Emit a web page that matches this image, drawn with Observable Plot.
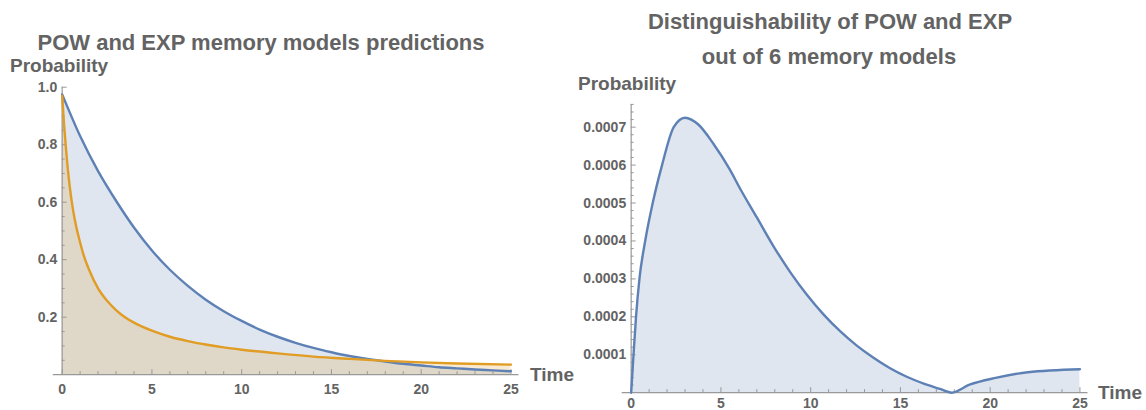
<!DOCTYPE html>
<html><head><meta charset="utf-8">
<script src="https://cdn.jsdelivr.net/npm/d3@7"></script>
<script src="https://cdn.jsdelivr.net/npm/@observablehq/plot@0.6"></script>
<style>
html,body{margin:0;padding:0;background:#fff;}
#wrap{position:relative;width:1146px;height:410px;overflow:hidden;font-family:"Liberation Sans",Arial,sans-serif;font-weight:bold;color:#636363;}
.t{position:absolute;white-space:nowrap;line-height:1;}
</style></head><body>
<div id="wrap">
  <div id="left" style="position:absolute;left:0;top:0;"></div>
  <div id="right" style="position:absolute;left:573px;top:0;"></div>
  <div class="t" style="left:261px;top:43px;font-size:22px;transform:translate(-50%,-50%)">POW and EXP memory models predictions</div>
  <div class="t" style="left:830px;top:22px;font-size:22px;transform:translate(-50%,-50%)">Distinguishability of POW and EXP</div>
  <div class="t" style="left:829px;top:57px;font-size:22px;transform:translate(-50%,-50%)">out of 6 memory models</div>
  <div class="t" style="left:10px;top:65px;font-size:19px;transform:translateY(-50%)">Probability</div>
  <div class="t" style="left:530px;top:374px;font-size:19px;transform:translateY(-50%)">Time</div>
  <div class="t" style="left:578px;top:83px;font-size:19px;transform:translateY(-50%)">Probability</div>
  <div class="t" style="left:1098px;top:392px;font-size:19px;transform:translateY(-50%)">Time</div>
</div>
<script>
// ---- data ----
const timeExp = [0,1,2,3,4,5,6,7,8,9,10,11,12,13,14,15,16,17,18,19,20,21,22,23,24,25];
const probExp = [0.975,0.83,0.708,0.605,0.512,0.432,0.365,0.309,0.261,0.221,0.187,0.157,0.132,0.111,0.093,0.078,0.065,0.055,0.046,0.038,0.032,0.026,0.022,0.018,0.015,0.012];

const timePow = [0,0.1,0.2,0.3,0.42,0.6,0.8,1,1.2,1.5,2,2.5,3,3.5,4,5,6,7,8,9,10,12,14,16,18,20,22,25];
const probPow = [0.97,0.875,0.795,0.725,0.655,0.575,0.51,0.46,0.415,0.365,0.30,0.257,0.225,0.20,0.181,0.153,0.132,0.117,0.105,0.095,0.087,0.074,0.063,0.055,0.048,0.043,0.039,0.035];

const timeDist = [0,0.13,0.27,0.46,0.78,1.2,1.72,2.37,3.0,3.74,4.57,5.5,6.08,7.0,7.93,8.86,9.79,10.7,11.64,12.57,13.5,14.4,15.35,16.3,17.2,17.85,18.85,20.3,22.1,25];
const probDist = [0,0.0001,0.0002,0.0003,0.0004,0.0005,0.0006,0.0007,0.000725,0.000707,0.000657,0.000588,0.000537,0.000462,0.000386,0.000318,0.000258,0.000207,0.000162,0.000124,0.000092,0.000065,0.000042,0.000024,0.00001,0,0.000021,0.000039,0.000054,0.000062];

// ---- ticks ----
const xMajor = [0,5,10,15,20,25];
const xMinor = [1,2,3,4,6,7,8,9,11,12,13,14,16,17,18,19,21,22,23,24];
const yMajorL = [0.2,0.4,0.6,0.8,1.0];
const yMinorL = [0.05,0.1,0.15,0.25,0.3,0.35,0.45,0.5,0.55,0.65,0.7,0.75,0.85,0.9,0.95];
const yMajorR = [0.0001,0.0002,0.0003,0.0004,0.0005,0.0006,0.0007];
const yMinorR = [0.00002,0.00004,0.00006,0.00008,0.00012,0.00014,0.00016,0.00018,0.00022,0.00024,0.00026,0.00028,0.00032,0.00034,0.00036,0.00038,0.00042,0.00044,0.00046,0.00048,0.00052,0.00054,0.00056,0.00058,0.00062,0.00064,0.00066,0.00068,0.00072,0.00074,0.00076];

const blue = "#5e81b5", orange = "#e19c24", gray = "#999999", txt = "#636363";
const expData = timeExp.map((t, i) => ({t, p: probExp[i]}));
const powData = timePow.map((t, i) => ({t, p: probPow[i]}));
const distData = timeDist.map((t, i) => ({t, p: probDist[i]}));
const dxAxis = 8.975;

function axes(yMajor, yMinor, fmt, xPad) {
  return [
    Plot.ruleY([0], {stroke: gray, strokeWidth: 1.2}),
    Plot.ruleX([0], {stroke: gray, strokeWidth: 1.2}),
    Plot.axisX({ticks: xMajor, tickSize: 0, tickPadding: xPad, tickFormat: d => String(d), fill: txt, label: null, fontSize: 14, fontWeight: "bold"}),
    Plot.axisX({ticks: xMajor, tickSize: 5, dy: -5, stroke: gray, fill: "none", label: null}),
    Plot.axisX({ticks: xMinor, tickSize: 3, dy: -3, stroke: gray, fill: "none", label: null}),
    Plot.axisY({ticks: yMajor, tickSize: 0, tickPadding: 5, dx: dxAxis, tickFormat: fmt, fill: txt, label: null, fontSize: 14, fontWeight: "bold"}),
    Plot.axisY({ticks: yMajor, tickSize: 5, dx: dxAxis + 5, stroke: gray, fill: "none", label: null}),
    Plot.axisY({ticks: yMinor, tickSize: 3, dx: dxAxis + 3, stroke: gray, fill: "none", label: null})
  ];
}
const style = {fontFamily: "'Liberation Sans', Arial, sans-serif", fontSize: "14px", fontWeight: "bold", color: txt, background: "transparent", overflow: "visible"};

const leftPlot = Plot.plot({
  width: 573, height: 410,
  marginLeft: 52.7, marginRight: 54.5, marginTop: 86.7, marginBottom: 35.8,
  x: {domain: [-0.5, 25.45]},
  y: {domain: [0, 1]},
  style,
  marks: [
    Plot.areaY(expData, {x: "t", y: "p", fill: blue, fillOpacity: 0.2, curve: "monotone-x"}),
    Plot.areaY(powData, {x: "t", y: "p", fill: orange, fillOpacity: 0.2, curve: "monotone-x"}),
    ...axes(yMajorL, yMinorL, d3.format(".1f"), 9),
    Plot.lineY(expData, {x: "t", y: "p", stroke: blue, strokeWidth: 2.4, curve: "monotone-x"}),
    Plot.lineY(powData, {x: "t", y: "p", stroke: orange, strokeWidth: 2.4, curve: "monotone-x"})
  ]
});
document.getElementById("left").appendChild(leftPlot);

const rightPlot = Plot.plot({
  width: 573, height: 410,
  marginLeft: 48.7, marginRight: 58.5, marginTop: 103.9, marginBottom: 17.8,
  x: {domain: [-0.5, 25.45]},
  y: {domain: [0, 0.00076]},
  style,
  marks: [
    Plot.areaY(distData, {x: "t", y: "p", fill: blue, fillOpacity: 0.2, curve: "monotone-x"}),
    ...axes(yMajorR, yMinorR, d3.format(".4f"), 5),
    Plot.lineY(distData, {x: "t", y: "p", stroke: blue, strokeWidth: 2.4, curve: "monotone-x"})
  ]
});
document.getElementById("right").appendChild(rightPlot);
</script>
</body></html>
